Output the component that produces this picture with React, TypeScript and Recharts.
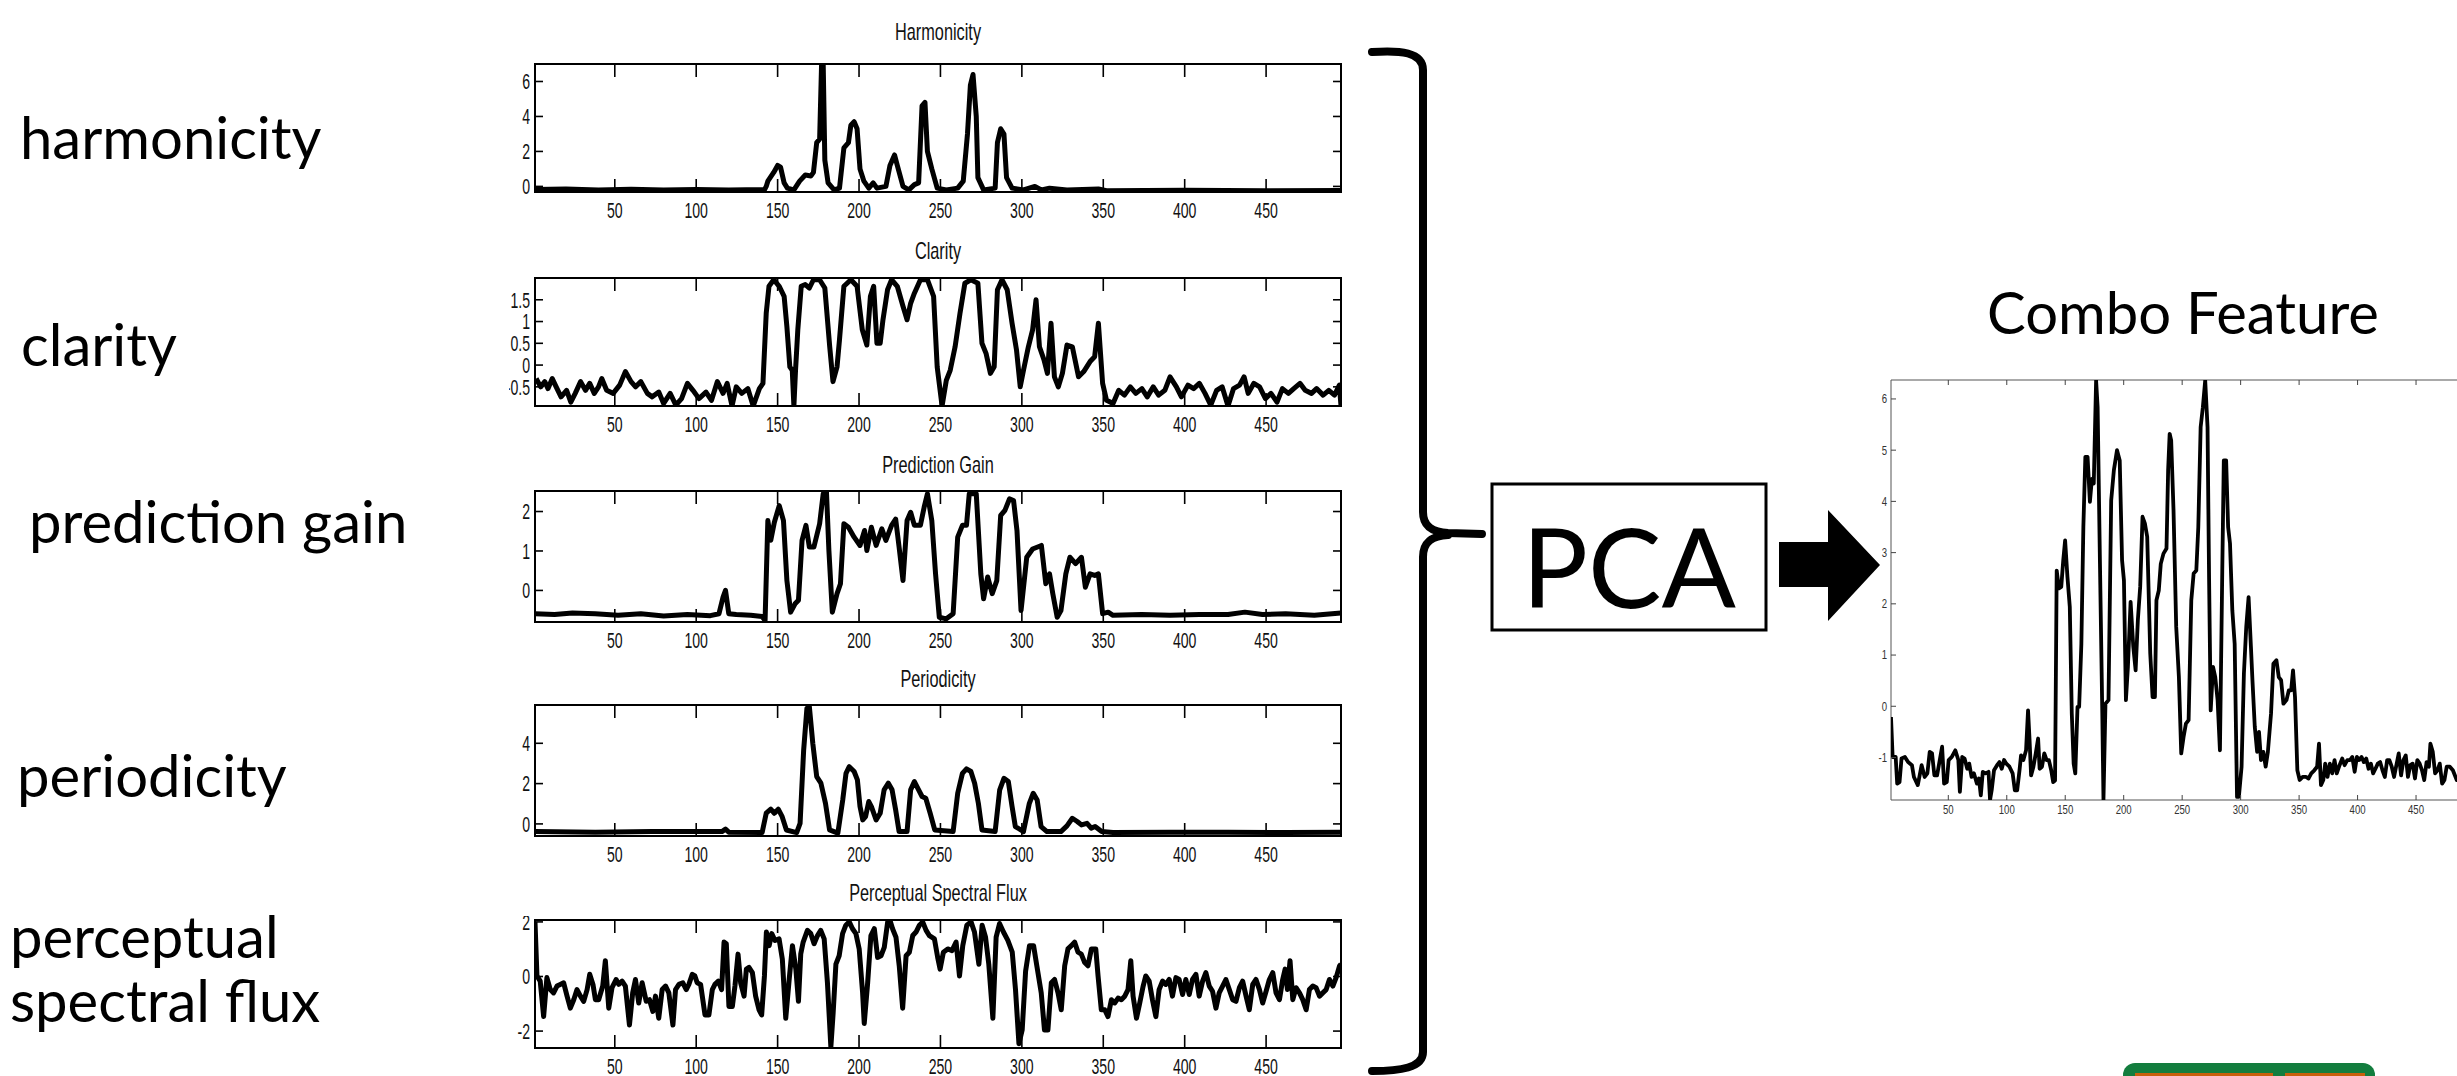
import { LineChart, Line, XAxis, YAxis, ReferenceArea } from "recharts";

type Pt = [number, number];

// frame index ticks shared by every panel
const FRAME_TICKS = [50, 100, 150, 200, 250, 300, 350, 400, 450];

const harmonicity: Pt[] = [
  [1, -0.18], [20, -0.15], [40, -0.2], [60, -0.16], [80, -0.2], [100, -0.17], [120, -0.2], [142, -0.18],
  [143, 0], [144, 0.3], [147.6, 0.8], [150, 1.2], [151.8, 1.1], [154, 0.2], [156, -0.1], [160, -0.2],
  [163.5, 0.3], [167, 0.65], [170.5, 0.6], [172, 0.8], [174, 2.5], [175.8, 2.7], [177, 7], [178, 7],
  [179, 1.5], [181, 0.2], [184.7, -0.2], [188, -0.1], [190.7, 2.2], [193.5, 2.5], [195, 3.5], [197, 3.7],
  [198.8, 3.3], [200.6, 1.0], [203, 0.3], [206, -0.1], [208.7, 0.2], [211, -0.1], [216.5, 0], [219, 1.2],
  [221.8, 1.8], [223.5, 1.2], [227, 0], [230.6, -0.2], [234, 0.1], [236.6, 0.2], [238.7, 4.6], [240.5, 4.8],
  [242, 2.0], [244.7, 1.0], [248, -0.1], [253.6, -0.2], [260.6, -0.1], [264, 0.3], [266.6, 3.0], [268.4, 5.8],
  [270, 6.4], [272, 4.0], [273, 0.5], [276.5, -0.2], [283.6, -0.1], [285, 2.5], [287, 3.3], [289, 3.0],
  [290.6, 0.5], [294, -0.1], [301, -0.2], [308, 0], [312, -0.2], [317, -0.1], [327.7, -0.2], [347, -0.15],
  [352, -0.25], [400, -0.22], [450, -0.25], [496, -0.24],
];

const clarity: Pt[] = [
  [1.7, -0.31], [4.5, -0.5], [7, -0.38], [9, -0.54], [11.6, -0.31], [14, -0.5], [17, -0.73], [20.4, -0.58],
  [23, -0.85], [25.7, -0.65], [29, -0.38], [32, -0.58], [34.6, -0.42], [37.4, -0.65], [40, -0.5], [42, -0.31],
  [45, -0.58], [49, -0.65], [53, -0.46], [56.5, -0.15], [60, -0.38], [62.8, -0.5], [66, -0.38], [70, -0.65],
  [73, -0.73], [77, -0.62], [80, -0.88], [84, -0.65], [87.5, -0.92], [91, -0.77], [94.6, -0.42], [98, -0.58],
  [101.7, -0.77], [106, -0.62], [109.4, -0.81], [113, -0.38], [116.5, -0.65], [119, -0.42], [122, -0.94],
  [124.6, -0.5], [128, -0.65], [131.7, -0.54], [135, -0.94], [138.8, -0.54], [141, -0.42], [143, 1.19],
  [144.7, 1.81], [147.6, 1.96], [151, 1.81], [154, 1.58], [155.7, 0.88], [157.5, -0.04], [159, -0.12],
  [160, -0.94], [161, -0.12], [162.4, 0.81], [164.5, 1.81], [167, 1.85], [169.5, 1.77], [172, 1.96],
  [175.8, 1.96], [179, 1.77], [182, 0.42], [184, -0.38], [186.5, -0.04], [188, 0.58], [190.7, 1.81],
  [195, 1.96], [198.8, 1.81], [202, 0.81], [204.8, 0.46], [207, 1.58], [209, 1.81], [211, 0.5], [213, 0.5],
  [214.7, 1.04], [217.5, 1.73], [220, 1.96], [223.5, 1.81], [227, 1.35], [229.5, 1.04], [231.7, 1.42],
  [234, 1.65], [237.7, 1.96], [242, 1.96], [245.8, 1.58], [248, -0.04], [251, -0.94], [253.6, -0.35],
  [256, -0.12], [259, 0.42], [262, 1.19], [265, 1.88], [268.7, 1.96], [273, 1.88], [275.5, 0.5], [278, 0.27],
  [280.7, -0.19], [283, -0.04], [285, 1.73], [287.8, 1.96], [291, 1.73], [294, 0.96], [296.7, 0.35],
  [299, -0.5], [301, -0.12], [304, 0.42], [306.6, 0.81], [308.7, 1.5], [310.8, 0.42], [313.6, 0.12],
  [315.7, -0.19], [317.9, 0.96], [320, -0.27], [322.4, -0.5], [324.9, -0.19], [327.7, 0.46], [331, 0.42],
  [334.8, -0.27], [338, -0.15], [341.9, 0.08], [344.7, 0.19], [347, 0.96], [349.6, -0.42], [352, -0.81],
  [356, -0.88], [359.5, -0.58], [363, -0.69], [366.6, -0.5], [370, -0.65], [373.7, -0.54], [377, -0.73],
  [380.7, -0.5], [384, -0.69], [387.8, -0.58], [391, -0.27], [394.9, -0.5], [398, -0.73], [402, -0.46],
  [405.5, -0.54], [409, -0.42], [412.5, -0.65], [416, -0.92], [419.6, -0.58], [423, -0.5], [426.6, -0.94],
  [430, -0.54], [433.7, -0.46], [436.5, -0.27], [439, -0.65], [442.5, -0.42], [446, -0.5], [449.6, -0.77],
  [453, -0.65], [456.7, -0.85], [460, -0.54], [463.7, -0.65], [467, -0.54], [470.8, -0.42], [474, -0.58],
  [477.9, -0.65], [481, -0.54], [485, -0.69], [488.5, -0.58], [492, -0.69], [495, -0.46], [496, -0.94],
];

const predictionGain: Pt[] = [
  [1, -0.59], [13, -0.61], [24, -0.57], [38, -0.59], [52, -0.63], [66, -0.59], [80, -0.65], [94.6, -0.61],
  [108.7, -0.64], [114, -0.59], [116.5, -0.17], [118, 0], [120, -0.59], [124.6, -0.61], [133.5, -0.63],
  [140.5, -0.66], [142.3, -0.76], [144, 1.77], [145.8, 1.27], [148, 1.73], [151, 2.15], [153.6, 1.77],
  [155.7, 0.25], [158, -0.55], [160.7, -0.34], [162.8, -0.25], [165, 1.27], [167.4, 1.65], [169.5, 1.1],
  [172.3, 1.1], [175.8, 1.69], [178, 2.45], [180, 2.49], [181.5, 1.01], [183.6, -0.55], [186.5, -0.08],
  [188.6, 0.17], [190.7, 1.69], [193.5, 1.6], [197, 1.35], [200.6, 1.14], [203.4, 1.52], [204.8, 1.01],
  [207.6, 1.6], [210.5, 1.14], [214, 1.56], [216.5, 1.27], [220, 1.65], [222.5, 1.81], [224.6, 1.1],
  [227, 0.25], [229.5, 1.77], [231.7, 1.98], [234, 1.65], [237.7, 1.65], [240, 2.11], [242, 2.45],
  [244.7, 1.77], [247, 0.42], [249.3, -0.68], [253.6, -0.72], [257.8, -0.59], [260.6, 1.35], [263.5, 1.65],
  [266, 1.65], [267.7, 2.45], [272, 2.45], [274.8, 0.42], [276.5, -0.21], [279, 0.34], [281.8, -0.08],
  [284.6, 0.25], [287, 1.9], [289.6, 2.03], [292.4, 2.32], [294.9, 2.28], [297, 1.52], [299.5, -0.51],
  [303, 0.84], [306.6, 1.05], [312, 1.14], [314.7, 0.17], [317, 0.42], [319, -0.08], [321.7, -0.68],
  [324, -0.51], [327, 0.42], [329.5, 0.84], [333, 0.68], [336.6, 0.84], [339, 0.08], [341.9, 0.42],
  [344.7, 0.38], [347, 0.42], [349.6, -0.59], [353, -0.55], [356, -0.63], [373.7, -0.61], [391, -0.63],
  [409, -0.61], [426.6, -0.61], [437, -0.55], [447.8, -0.61], [462, -0.59], [479.6, -0.63], [496, -0.57],
];

const periodicity: Pt[] = [
  [1, -0.38], [38, -0.41], [73, -0.38], [115.8, -0.38], [118, -0.26], [120, -0.41], [140.5, -0.43],
  [143, 0.53], [145.8, 0.73], [148, 0.53], [150.4, 0.73], [152.8, 0.36], [155.4, -0.3], [161.7, -0.43],
  [163.8, 0.03], [166, 3.67], [168, 5.74], [169.5, 5.82], [171.6, 4.0], [174, 2.35], [176.6, 2.02],
  [179.4, 1.02], [181.9, -0.3], [187, -0.46], [190, 1.19], [192, 2.51], [194, 2.84], [197, 2.6], [199, 2.18],
  [200.6, 0.86], [202.3, 0.2], [204, 0.36], [206, 1.11], [207.6, 0.86], [210.5, 0.2], [213, 0.53],
  [215.4, 1.69], [218, 2.02], [220.3, 1.69], [222.5, 0.69], [224.6, -0.38], [229.5, -0.38], [231.7, 1.69],
  [234, 2.1], [236.6, 1.69], [238.7, 1.36], [241, 1.27], [243.7, 0.53], [246.5, -0.3], [257.8, -0.38],
  [260.6, 1.52], [263.5, 2.51], [266, 2.73], [268.7, 2.6], [271, 2.02], [273.3, 1.02], [275.5, -0.3],
  [283.6, -0.38], [286.4, 1.69], [289, 2.26], [291.7, 2.1], [294, 0.86], [296, -0.13], [301, -0.38],
  [304.6, 1.02], [307, 1.52], [309.4, 1.19], [311.8, -0.13], [315.4, -0.38], [324, -0.38], [327.7, -0.1],
  [331, 0.28], [334, 0.12], [336.6, -0.05], [340, 0.03], [342.6, -0.21], [345, -0.13], [349, -0.38],
  [356, -0.43], [391, -0.41], [426.6, -0.41], [462, -0.43], [496, -0.41],
];

const spectralFlux: Pt[] = [
  [1, 2.0], [2.2, 0.02], [4.2, -0.17], [6.3, -1.47], [8.3, -0.04], [10.4, -0.48], [12.4, -0.6], [14.5, -0.35],
  [16.5, -0.29], [18.6, -0.23], [20.7, -0.72], [22.7, -1.16], [24.8, -0.85], [26.8, -0.48], [28.9, -0.72],
  [30.9, -0.91], [33, -0.48], [34.6, 0.08], [36.6, -0.29], [38.1, -0.85], [40.1, -0.85], [42.6, -0.35],
  [44.2, 0.58], [46.3, -1.16], [48.3, -0.41], [50.8, -0.11], [52.4, -0.29], [54.5, -0.17], [56.5, -0.35],
  [59, -1.78], [61, -0.6], [62.7, -0.11], [64.7, -0.97], [66.8, -0.23], [69.3, -0.91], [71.3, -0.85],
  [73.4, -1.28], [75, -0.72], [77, -1.53], [79.1, -0.48], [81.2, -0.35], [83.2, -0.6], [85.7, -1.78],
  [87.3, -0.48], [89.4, -0.29], [91.8, -0.23], [93.9, -0.48], [95.5, -0.29], [97.6, 0.08], [99.2, 0.02],
  [100.6, -0.23], [102.7, -0.29], [105.4, -1.41], [107.8, -1.41], [109.9, -0.48], [111.5, -0.29],
  [113.6, -0.17], [115.6, -0.48], [117.1, 1.26], [118.5, 1.2], [120.1, -1.1], [122.2, -1.1], [123.8, -0.35],
  [125.7, 0.82], [127.3, -0.23], [129.4, -0.72], [130.8, 0.27], [132.4, 0.33], [134.5, 0.14], [136.5, -0.72],
  [138.6, -1.22], [140.2, -1.41], [141.9, 0.02], [143.1, 1.63], [144.8, 1.13], [146.4, 1.57], [148.4, 1.32],
  [150.9, 1.38], [152.9, 0.64], [155, -1.53], [157.1, -0.11], [159.1, 1.13], [161.2, 0.27], [162.8, -0.91],
  [164.2, 0.82], [165.7, 1.26], [168.3, 1.69], [170.4, 1.57], [172.4, 1.2], [174.5, 1.5], [176.5, 1.69],
  [178.6, 1.38], [180.6, -0.23], [182.7, -2.58], [184.1, -1.34], [185.8, 0.45], [187.8, 0.76], [189.9, 1.57],
  [191.9, 1.88], [194, 2.0], [196, 1.75], [198.1, 1.57], [200.1, 1.01], [202.2, -0.6], [203.2, -1.72],
  [205.3, -0.23], [207.3, 1.5], [209.4, 1.75], [211.4, 0.7], [213.5, 0.76], [215.5, 1.07], [217.6, 2.0],
  [219, 2.06], [220.6, 1.75], [222.7, 1.44], [224.7, 0.39], [226.8, -1.16], [228.9, 0.76], [230.9, 0.89],
  [233, 1.5], [235, 1.63], [237.1, 1.88], [239.1, 2.0], [241.2, 1.69], [243.2, 1.5], [246.3, 1.38],
  [248.3, 0.7], [249.8, 0.27], [251.8, 0.89], [254.5, 1.01], [257.1, 0.95], [259.6, 1.26], [261.7, 0.02],
  [263.7, 1.13], [266.2, 1.88], [268.8, 2.0], [270.9, 1.63], [273.6, 0.45], [275.6, 1.88], [277.7, 1.44],
  [279.7, 0.45], [282.2, -1.53], [284.2, 1.44], [286.3, 1.94], [288.7, 1.63], [291.4, 1.32], [294.1, 0.89],
  [296.1, -0.48], [298.2, -2.46], [300.2, -1.96], [302.3, 0.2], [304.7, 1.13], [307.2, 1.13], [309.2, 0.39],
  [311.9, -0.6], [313.9, -1.96], [316, -1.96], [318.1, -0.23], [320.1, -0.11], [322.2, -0.6], [324.2, -1.22],
  [326.3, 0.39], [328.3, 1.01], [330.4, 1.13], [332.4, 1.26], [334.5, 0.89], [336.5, 0.82], [338.6, 0.51],
  [340.6, 0.39], [342.7, 1.01], [345.4, 1.01], [346.8, 0.02], [348.8, -1.22], [350.9, -1.22], [352.9, -1.47],
  [355, -0.85], [357, -0.97], [359.1, -0.79], [361.1, -0.85], [363.2, -0.72], [365.2, -0.48], [366.9, 0.58],
  [368.3, -0.72], [370.4, -1.53], [372.4, -0.97], [374.5, -0.35], [376.1, 0.02], [378.2, -0.17], [380.2, -0.85],
  [382.3, -1.47], [384.3, -0.48], [386.4, -0.17], [388.4, -0.29], [390.5, -0.11], [392.5, -0.72], [394.6, -0.04],
  [396.6, -0.11], [398.7, -0.66], [400.7, -0.11], [402.8, -0.66], [404.8, -0.11], [406.9, 0.08], [408.9, -0.72],
  [411, -0.17], [413, 0.14], [415.1, -0.35], [417.1, -0.54], [419.2, -1.16], [421.2, -0.6], [423.3, -0.35],
  [425.3, -0.11], [427.4, -0.48], [429.5, -0.85], [431.5, -0.91], [433.6, -0.41], [435.6, -0.17], [437.7, -0.72],
  [439.7, -1.22], [441.8, -0.29], [443.8, -0.11], [445.9, -0.48], [447.9, -0.97], [450, -0.54], [452, -0.11],
  [454.1, 0.14], [456.1, -0.6], [458.2, -0.85], [460.2, -0.11], [461.7, 0.27], [463.1, -0.48], [464.7, 0.58],
  [466.4, -0.85], [468.4, -0.41], [470.5, -0.6], [472.5, -0.85], [474.6, -1.22], [476.6, -0.48], [478.7, -0.35],
  [480.7, -0.41], [482.8, -0.72], [484.8, -0.6], [486.9, -0.48], [488.9, -0.11], [491, -0.35], [493, -0.04],
  [495.1, 0.39], [496, 0.45],
];

const comboFeature: Pt[] = [
  [1, -0.21], [2.4, -0.99], [5, -0.99], [6.3, -1.51], [8.3, -1.48], [10, -1.02], [12.9, -0.99], [15.6, -1.09],
  [18.9, -1.15], [20.6, -1.38], [23.9, -1.54], [27.2, -1.15], [29.8, -1.38], [32.1, -1.31], [34.1, -0.89],
  [36.1, -0.92], [38.1, -1.35], [40.4, -1.35], [42.7, -1.05], [44.7, -0.79], [46.4, -1.51], [48.7, -1.48],
  [50.3, -1.05], [53, -0.99], [56, -0.86], [58.6, -1.05], [59.9, -1.67], [61.9, -0.99], [63.9, -1.02],
  [66.2, -1.22], [67.9, -1.12], [69.9, -1.38], [71.9, -1.31], [74.5, -1.51], [76.2, -1.41], [77.8, -1.74],
  [79.5, -1.28], [81.8, -1.31], [84.4, -1.28], [85.7, -1.83], [87.1, -1.64], [89.1, -1.25], [91.7, -1.15],
  [93.7, -1.09], [95.7, -1.22], [97.7, -1.05], [99.6, -1.12], [102.3, -1.18], [105, -1.31], [106.9, -1.64],
  [108.9, -1.64], [110.9, -1.25], [112.2, -0.96], [114.2, -1.05], [116.5, -0.86], [118.2, -0.08], [119.5, -0.66],
  [120.8, -1.35], [122.8, -1.18], [124.8, -0.92], [126.8, -0.63], [128.1, -1.22], [130.1, -1.18], [132.1, -0.92],
  [134.1, -1.05], [136, -1.05], [138, -1.25], [139.7, -1.48], [141.3, -1.45], [142.7, 2.65], [144.6, 2.3],
  [146.6, 2.33], [148.3, 2.85], [149.9, 3.24], [151.9, 2.52], [153.9, 1.94], [155.6, -0.14], [157.2, -1.12],
  [158.6, -1.31], [160.5, -0.01], [161.9, -0.01], [163.8, 1.22], [165.5, 3.5], [167.2, 4.87], [169.1, 4.87],
  [171.1, 3.99], [172.8, 4.44], [174.4, 4.35], [176.4, 6.36], [177.7, 5.84], [179.7, 2.78], [181.7, -0.14],
  [182.7, -1.83], [184.4, 0.05], [187, 0.12], [189.3, 4.02], [191.6, 4.61], [194.3, 5.0], [196.6, 4.8],
  [198.6, 2.85], [200.2, 2.46], [201.9, 0.12], [203.6, 0.77], [205.9, 2.04], [208.2, 1.16], [210.2, 0.7],
  [212.1, 1.68], [214.1, 2.33], [216.1, 3.7], [218.1, 3.57], [220.1, 3.31], [222.7, 1.03], [224.7, 0.18],
  [226.7, 0.18], [228, 2.07], [230, 2.26], [231.7, 2.78], [234, 2.98], [236.6, 3.08], [238, 4.61], [239.3, 5.32],
  [240.6, 5.19], [242.6, 3.83], [244.9, 1.55], [247.2, 0.57], [249.2, -0.92], [251.2, -0.6], [253.2, -0.34],
  [255.5, -0.27], [257.8, 2.07], [259.8, 2.59], [262.1, 2.65], [263.8, 3.5], [265.8, 5.45], [267.7, 5.84],
  [269.7, 6.36], [271.7, 5.45], [273, 2.52], [274.4, -0.08], [276.4, 0.77], [278.3, 0.57], [280.3, 0.12],
  [282.3, -0.86], [284.3, 2.65], [285.6, 4.8], [287.6, 4.8], [289.3, 3.5], [290.9, 3.18], [292.9, 1.87],
  [294.9, 1.22], [296.9, -1.77], [298.5, -1.77], [300.8, -1.18], [302.8, 0.64], [304.8, 1.55], [306.8, 2.13],
  [308.8, 1.16], [310.1, 0.51], [312.1, -0.4], [314.1, -0.89], [315.7, -0.5], [317.4, -1.05], [319.4, -0.89],
  [321.4, -1.18], [323.3, -0.89], [326, -0.14], [328, 0.83], [330.6, 0.9], [332.6, 0.57], [334.6, 0.51],
  [336.6, 0.05], [339.2, 0.12], [341.2, 0.31], [343.2, 0.31], [344.8, 0.7], [346.5, 0.18], [348.5, -1.25],
  [350.5, -1.44], [353.1, -1.38], [355.8, -1.38], [358.1, -1.41], [360.4, -1.31], [363, -1.25], [365.4, -1.18],
  [367, -0.73], [368.7, -1.54], [370.7, -1.44], [372.3, -1.12], [374.3, -1.38], [376.3, -1.12], [378.3, -1.31],
  [380.3, -1.05], [382.2, -1.31], [384.6, -1.15], [386.9, -1.02], [388.9, -1.15], [391.2, -1.05], [393.5, -1.05],
  [395.5, -0.99], [397.5, -1.28], [399.4, -0.99], [401.4, -1.05], [403.4, -0.99], [405.4, -1.09], [407.4, -1.02],
  [409.4, -1.22], [411.4, -1.12], [413.3, -1.31], [415.3, -1.22], [417.3, -1.12], [419.3, -1.09], [421.3, -1.25],
  [423.3, -1.38], [425.3, -1.05], [427.2, -1.05], [429.2, -1.18], [431.2, -1.38], [433.2, -1.15], [435.2, -0.92],
  [437.2, -1.35], [439.2, -1.05], [441.2, -0.96], [443.1, -1.38], [445.1, -1.15], [447.1, -1.12], [449.1, -1.41],
  [451.1, -1.05], [453.1, -1.12], [455.1, -1.25], [457, -1.44], [459, -1.09], [461, -1.18], [462.3, -0.73],
  [464.3, -0.89], [466.3, -1.31], [468.3, -1.25], [470.3, -1.12], [472.3, -1.51], [474.3, -1.44], [476.2, -1.18],
  [478.9, -1.18], [481.5, -1.25], [484.8, -1.44], [490, -1.3], [496, -1.25],
];

const COMBO_Y_TICKS = [-1, 0, 1, 2, 3, 4, 5, 6];

const FONT_PANEL = "'Liberation Sans', Arial, sans-serif";
const FONT_SLIDE = "Lato, 'Open Sans', sans-serif";

const toRows = (pts: Pt[]) => pts.map(([x, y]) => ({ x, y }));

// small MATLAB-style panel: ticks drawn inward on all four sides, condensed labels
function panelXTick(plotH: number) {
  return (p: any) => {
    const { x, y, payload } = p;
    return (
      <g>
        <line x1={x} x2={x} y1={y} y2={y - 13} stroke="#000" strokeWidth={1.6} />
        <line x1={x} x2={x} y1={y - plotH} y2={y - plotH + 13} stroke="#000" strokeWidth={1.6} />
        <text
          transform={`translate(${x},${y + 18}) scale(0.64,1)`}
          textAnchor="middle"
          dominantBaseline="central"
          fontSize={22}
          fontFamily={FONT_PANEL}
          fill="#111"
        >
          {payload.value}
        </text>
      </g>
    );
  };
}

function panelYTick(plotW: number) {
  return (p: any) => {
    const { x, y, payload } = p;
    return (
      <g>
        <line x1={x} x2={x + 8} y1={y} y2={y} stroke="#000" strokeWidth={1.6} />
        <line x1={x + plotW - 8} x2={x + plotW} y1={y} y2={y} stroke="#000" strokeWidth={1.6} />
        <text
          transform={`translate(${x - 5},${y}) scale(0.64,1)`}
          textAnchor="end"
          dominantBaseline="central"
          fontSize={22}
          fontFamily={FONT_PANEL}
          fill="#111"
        >
          {payload.value}
        </text>
      </g>
    );
  };
}

interface PanelProps {
  points: Pt[];
  domain: [number, number];
  yTicks: number[];
  plotTop: number;
  plotH: number;
}

const PANEL_LEFT = 495;
const PANEL_PLOT_W = 806;

function FeaturePanel({ points, domain, yTicks, plotTop, plotH }: PanelProps) {
  const marginTop = 4;
  return (
    <div style={{ position: "absolute", left: PANEL_LEFT - 509, top: plotTop - marginTop }}>
      <LineChart
        width={40 + PANEL_PLOT_W + 4}
        height={plotH + marginTop + 40}
        data={toRows(points)}
        margin={{ top: marginTop, right: 4, bottom: 0, left: 0 }}
      >
        <XAxis
          type="number"
          dataKey="x"
          domain={[1, 496]}
          ticks={FRAME_TICKS}
          interval={0}
          allowDataOverflow
          axisLine={false}
          tickLine={false}
          tickSize={0}
          tickMargin={0}
          height={40}
          tick={panelXTick(plotH)}
        />
        <YAxis
          type="number"
          domain={domain}
          ticks={yTicks}
          interval={0}
          allowDataOverflow
          axisLine={false}
          tickLine={false}
          tickSize={0}
          tickMargin={0}
          width={40}
          tick={panelYTick(PANEL_PLOT_W)}
        />
        <ReferenceArea
          x1={1}
          x2={496}
          y1={domain[0]}
          y2={domain[1]}
          fill="none"
          stroke="#000"
          strokeWidth={2}
          ifOverflow="visible"
        />
        <Line
          type="linear"
          dataKey="y"
          stroke="#000"
          strokeWidth={5}
          strokeLinejoin="round"
          dot={false}
          isAnimationActive={false}
        />
      </LineChart>
    </div>
  );
}

function comboXTick(plotH: number) {
  return (p: any) => {
    const { x, y, payload } = p;
    return (
      <g>
        <line x1={x} x2={x} y1={y} y2={y - 5} stroke="#444" strokeWidth={1} />
        <line x1={x} x2={x} y1={y - plotH} y2={y - plotH + 5} stroke="#444" strokeWidth={1} />
        <text
          transform={`translate(${x},${y + 10}) scale(0.8,1)`}
          textAnchor="middle"
          dominantBaseline="central"
          fontSize={12}
          fontFamily={FONT_PANEL}
          fill="#333"
        >
          {payload.value}
        </text>
      </g>
    );
  };
}

function comboYTick(p: any) {
  const { x, y, payload } = p;
  return (
    <g>
      <line x1={x} x2={x + 5} y1={y} y2={y} stroke="#444" strokeWidth={1} />
      <text
        transform={`translate(${x - 4},${y}) scale(0.8,1)`}
        textAnchor="end"
        dominantBaseline="central"
        fontSize={12}
        fontFamily={FONT_PANEL}
        fill="#333"
      >
        {payload.value}
      </text>
    </g>
  );
}

function ComboChart() {
  const plotH = 420;
  return (
    <div style={{ position: "absolute", left: 1840, top: 370 }}>
      <LineChart
        width={633}
        height={455}
        data={toRows(comboFeature)}
        margin={{ top: 10, right: 2, bottom: 0, left: 0 }}
      >
        <XAxis
          type="number"
          dataKey="x"
          domain={[1, 497]}
          ticks={FRAME_TICKS}
          interval={0}
          allowDataOverflow
          axisLine={false}
          tickLine={false}
          tickSize={0}
          tickMargin={0}
          height={25}
          tick={comboXTick(plotH)}
        />
        <YAxis
          type="number"
          domain={[-1.83, 6.37]}
          ticks={COMBO_Y_TICKS}
          interval={0}
          allowDataOverflow
          axisLine={false}
          tickLine={false}
          tickSize={0}
          tickMargin={0}
          width={51}
          tick={comboYTick}
        />
        <ReferenceArea
          x1={1}
          x2={497}
          y1={-1.83}
          y2={6.37}
          fill="none"
          stroke="#555"
          strokeWidth={1}
          ifOverflow="visible"
        />
        <Line
          type="linear"
          dataKey="y"
          stroke="#000"
          strokeWidth={3.8}
          strokeLinejoin="round"
          dot={false}
          isAnimationActive={false}
        />
      </LineChart>
    </div>
  );
}

const PANEL_TITLES = ["Harmonicity", "Clarity", "Prediction Gain", "Periodicity", "Perceptual Spectral Flux"];
const TITLE_BASELINES = [40, 259, 473, 687, 901];

const SIDE_LABELS = ["harmonicity", "clarity", "prediction gain", "periodicity", "perceptual", "spectral flux"];
const SIDE_X = [20, 21, 29, 17, 10, 10];
const SIDE_BASELINES = [159, 366, 543, 797, 958, 1022];

export default function App() {
  return (
    <div
      style={{
        position: "fixed",
        left: 0,
        top: 0,
        width: 2457,
        height: 1076,
        overflow: "hidden",
        background: "#fff",
      }}
    >
      <svg width={2457} height={1076} style={{ position: "absolute", left: 0, top: 0 }}>
        {SIDE_LABELS.map((t, i) => (
          <text key={t} x={SIDE_X[i]} y={SIDE_BASELINES[i]} fontSize={58} fontFamily={FONT_SLIDE} fill="#000">
            {t}
          </text>
        ))}
        {PANEL_TITLES.map((t, i) => (
          <text
            key={t}
            transform={`translate(938,${TITLE_BASELINES[i]}) scale(0.68,1)`}
            textAnchor="middle"
            fontSize={24}
            fontFamily={FONT_PANEL}
            fill="#111"
          >
            {t}
          </text>
        ))}
        {/* brace */}
        <path
          d="M1372 52 C1400 50 1423 52 1423 70 L1423 512 C1423 527 1433 532 1448 533 L1482 534"
          fill="none"
          stroke="#000"
          strokeWidth={8}
          strokeLinecap="round"
        />
        <path
          d="M1448 535 C1433 536 1423 541 1423 557 L1423 1052 C1423 1068 1400 1071 1372 1071"
          fill="none"
          stroke="#000"
          strokeWidth={8}
          strokeLinecap="round"
        />
        {/* PCA box */}
        <rect x={1492} y={484} width={274} height={146} fill="none" stroke="#000" strokeWidth={3} />
        <text x={1629} y={608} textAnchor="middle" fontSize={110} fontFamily={FONT_SLIDE} fill="#000">
          PCA
        </text>
        {/* arrow */}
        <polygon points="1779,542 1828,542 1828,510 1880,565 1828,621 1828,587 1779,587" fill="#000" />
        <text x={2183} y={334} textAnchor="middle" fontSize={58} fontFamily={FONT_SLIDE} fill="#000">
          Combo Feature
        </text>
        {/* partially visible logo at the bottom edge */}
        <rect x={2123} y={1063} width={252} height={40} rx={12} fill="#137d3e" />
        <rect x={2135} y={1073} width={138} height={20} fill="#c7600c" />
        <rect x={2285} y={1073} width={80} height={20} fill="#c7600c" />
      </svg>

      <div style={{ position: "absolute", left: 509, top: 0, width: 900, height: 1076, overflow: "hidden" }}>
        <FeaturePanel points={harmonicity} domain={[-0.32, 7.0]} yTicks={[0, 2, 4, 6]} plotTop={64} plotH={128} />
        <FeaturePanel points={clarity} domain={[-0.94, 2.0]} yTicks={[-0.5, 0, 0.5, 1, 1.5]} plotTop={278} plotH={128} />
        <FeaturePanel points={predictionGain} domain={[-0.8, 2.52]} yTicks={[0, 1, 2]} plotTop={491} plotH={131} />
        <FeaturePanel points={periodicity} domain={[-0.6, 5.9]} yTicks={[0, 2, 4]} plotTop={705} plotH={131} />
        <FeaturePanel points={spectralFlux} domain={[-2.62, 2.07]} yTicks={[-2, 0, 2]} plotTop={920} plotH={128} />
      </div>

      <ComboChart />
    </div>
  );
}
